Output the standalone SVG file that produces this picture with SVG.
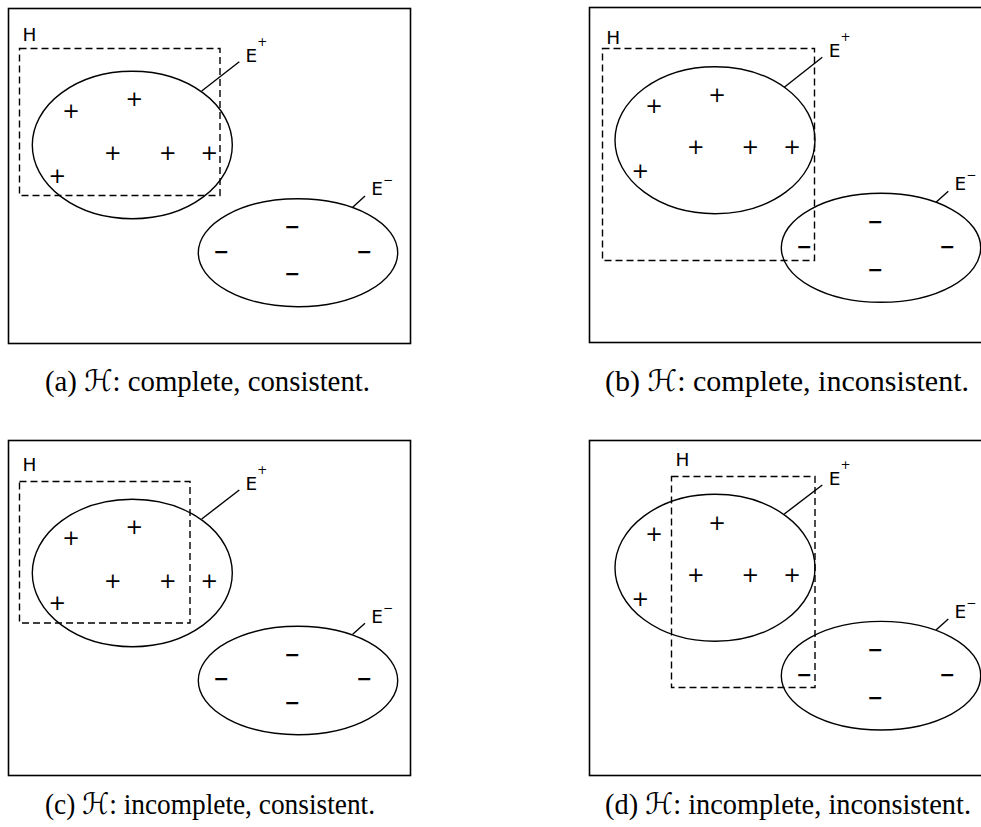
<svg xmlns="http://www.w3.org/2000/svg" width="981" height="827" viewBox="0 0 981 827">
<style>
.frame{fill:none;stroke:#000;stroke-width:1.6}
.hyp{fill:none;stroke:#000;stroke-width:1.4;stroke-dasharray:7 4}
.set{fill:none;stroke:#000;stroke-width:1.4}
.lead{stroke:#000;stroke-width:1.4}
.lbl{font-family:"DejaVu Sans",sans-serif;font-size:18.5px;fill:#000}
.sup{font-size:12px}
.pl{font-family:"DejaVu Sans",sans-serif;font-size:21px;text-anchor:middle;dominant-baseline:central;fill:#000}
.mi{font-family:"DejaVu Sans",sans-serif;font-size:19px;font-weight:bold;text-anchor:middle;dominant-baseline:central;fill:#000}
.cap{font-family:"Liberation Serif","Times New Roman",serif;font-size:29.5px;fill:#000}
.scr{font-family:"DejaVu Serif","DejaVu Sans",serif;font-style:italic}
</style>
<rect width="981" height="827" fill="#fff"/>

<g id="panel-a">
  <rect class="frame" x="8.5" y="8.5" width="402" height="335"/>
  <g id="a-H"><rect class="hyp" x="19.5" y="48.5" width="200.5" height="147"/><text class="lbl" x="22.5" y="41">H</text></g>
  <g id="a-Epos"><ellipse class="set" cx="132.3" cy="145" rx="100" ry="73.7"/>
    <text class="lbl" x="245.5" y="62">E<tspan class="sup" dy="-16">+</tspan></text>
    <text class="pl" x="134.3" y="99">+</text><text class="pl" x="71" y="110.7">+</text><text class="pl" x="112.7" y="152.7">+</text><text class="pl" x="167.7" y="152.7">+</text><text class="pl" x="209.3" y="152.7">+</text><text class="pl" x="57.3" y="175.7">+</text></g>
  <g id="a-Eneg"><ellipse class="set" cx="298" cy="252.7" rx="99.7" ry="54"/>
    <text class="lbl" x="371.2" y="194.5">E<tspan class="sup" dy="-11">−</tspan></text>
    <text class="mi" x="292.3" y="225.7">−</text><text class="mi" x="221.3" y="250.7">−</text><text class="mi" x="364.3" y="250.7">−</text><text class="mi" x="292.3" y="273.3">−</text></g>
  <text class="cap" x="45" y="391" textLength="325" lengthAdjust="spacingAndGlyphs">(a) <tspan class="scr">ℋ</tspan>: complete, consistent.</text>
</g>

<g id="panel-b">
  <rect class="frame" x="589.5" y="7.5" width="400" height="335"/>
  <g id="b-H"><rect class="hyp" x="602.5" y="48.5" width="212" height="212"/><text class="lbl" x="606.2" y="44">H</text></g>
  <g id="b-Epos"><ellipse class="set" cx="715" cy="140.2" rx="100" ry="73.5"/>
    <text class="lbl" x="828.8" y="57">E<tspan class="sup" dy="-16">+</tspan></text>
    <text class="pl" x="717" y="95">+</text><text class="pl" x="654" y="106">+</text><text class="pl" x="695.7" y="147.3">+</text><text class="pl" x="750.3" y="147.3">+</text><text class="pl" x="792" y="147.3">+</text><text class="pl" x="640.3" y="171">+</text></g>
  <g id="b-Eneg"><ellipse class="set" cx="881" cy="247.8" rx="99.7" ry="54.5"/>
    <text class="lbl" x="954.5" y="190.2">E<tspan class="sup" dy="-11">−</tspan></text>
    <text class="mi" x="875.3" y="220.7">−</text><text class="mi" x="804.3" y="246">−</text><text class="mi" x="947.3" y="246">−</text><text class="mi" x="875.3" y="268.7">−</text></g>
  <text class="cap" x="605" y="391" textLength="364" lengthAdjust="spacingAndGlyphs">(b) <tspan class="scr">ℋ</tspan>: complete, inconsistent.</text>
</g>

<g id="panel-c">
  <rect class="frame" x="8.5" y="440.5" width="402" height="335"/>
  <g id="c-H"><rect class="hyp" x="19.5" y="481.5" width="170.5" height="141.5"/><text class="lbl" x="22.5" y="471">H</text></g>
  <g id="c-Epos"><ellipse class="set" cx="132.3" cy="573" rx="100" ry="73.7"/>
    <text class="lbl" x="245.5" y="489.6">E<tspan class="sup" dy="-16">+</tspan></text>
    <text class="pl" x="134.3" y="527">+</text><text class="pl" x="71" y="538.3">+</text><text class="pl" x="112.7" y="580.7">+</text><text class="pl" x="167.7" y="580.7">+</text><text class="pl" x="209.3" y="580.7">+</text><text class="pl" x="57.3" y="603.3">+</text></g>
  <g id="c-Eneg"><ellipse class="set" cx="298" cy="680.5" rx="99.7" ry="54.2"/>
    <text class="lbl" x="371.2" y="622.5">E<tspan class="sup" dy="-11">−</tspan></text>
    <text class="mi" x="292.3" y="654">−</text><text class="mi" x="221.3" y="678.3">−</text><text class="mi" x="364.3" y="678.3">−</text><text class="mi" x="292.3" y="701.7">−</text></g>
  <text class="cap" x="45" y="814" textLength="330" lengthAdjust="spacingAndGlyphs">(c) <tspan class="scr">ℋ</tspan>: incomplete, consistent.</text>
</g>

<g id="panel-d">
  <rect class="frame" x="589.5" y="440.5" width="400" height="335"/>
  <g id="d-H"><rect class="hyp" x="671.5" y="476.5" width="143.5" height="211"/><text class="lbl" x="675.5" y="465.7">H</text></g>
  <g id="d-Epos"><ellipse class="set" cx="715" cy="567.8" rx="100" ry="73.5"/>
    <text class="lbl" x="828.8" y="484.6">E<tspan class="sup" dy="-16">+</tspan></text>
    <text class="pl" x="717" y="522.7">+</text><text class="pl" x="654" y="534">+</text><text class="pl" x="695.7" y="575.3">+</text><text class="pl" x="750.3" y="575.3">+</text><text class="pl" x="792" y="575.3">+</text><text class="pl" x="640.3" y="599">+</text></g>
  <g id="d-Eneg"><ellipse class="set" cx="881" cy="675.7" rx="99.7" ry="54.3"/>
    <text class="lbl" x="954.5" y="618">E<tspan class="sup" dy="-11">−</tspan></text>
    <text class="mi" x="875.3" y="648.7">−</text><text class="mi" x="804.3" y="674">−</text><text class="mi" x="947.3" y="674">−</text><text class="mi" x="875.3" y="696.7">−</text></g>
  <text class="cap" x="605" y="814" textLength="366" lengthAdjust="spacingAndGlyphs">(d) <tspan class="scr">ℋ</tspan>: incomplete, inconsistent.</text>
</g>

<g id="connectors">
  <line class="lead" x1="201.7" y1="91" x2="239.3" y2="61.7"/>
  <line class="lead" x1="352.7" y1="207.3" x2="365" y2="196"/>
  <line class="lead" x1="784.3" y1="87.3" x2="822.3" y2="57.3"/>
  <line class="lead" x1="936" y1="202.3" x2="948.3" y2="191.3"/>
  <line class="lead" x1="201.7" y1="519" x2="239.3" y2="490"/>
  <line class="lead" x1="352.7" y1="634.3" x2="365" y2="623.3"/>
  <line class="lead" x1="784.3" y1="514" x2="822.3" y2="485"/>
  <line class="lead" x1="936" y1="630" x2="948.3" y2="619"/>
</g>
</svg>
